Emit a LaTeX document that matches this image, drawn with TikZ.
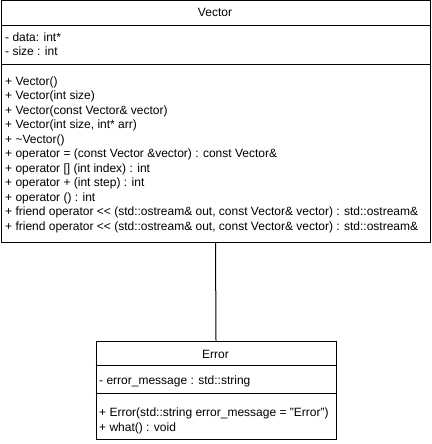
\documentclass[tikz,border=0pt]{standalone}
\usepackage{fontspec}
\setmainfont{Liberation Sans}
\usepackage{tikz}
\usetikzlibrary{positioning}
\definecolor{umlLine}{RGB}{0,0,0}
\definecolor{umlText}{RGB}{0,0,0}

\begin{document}
\begin{tikzpicture}[x=1pt,y=-1pt,
    classbox/.style={draw=umlLine,line width=1pt,fill=white,inner sep=0pt,anchor=north west},
    title/.style={anchor=base,inner sep=0pt,umlText,font=\fontsize{12}{14}\selectfont},
    member/.style={anchor=base west,inner sep=0pt,umlText,font=\fontsize{12}{14}\selectfont}]
        \useasboundingbox (0,0) rectangle (431,444);

        % Vector class
        \node[classbox,minimum width=429pt,minimum height=241pt] (vector) at (0.5,0.5) {};
        \draw[umlLine,line width=1pt] ([yshift=-25pt]vector.north west) -- ([yshift=-25pt]vector.north east);
        \draw[umlLine,line width=1pt] ([yshift=-64pt]vector.north west) -- ([yshift=-64pt]vector.north east);
        \node[title] (vtitle) at (215,17) {Vector};
        \foreach \txt [count=\i] in {{- data: int*},{- size : int}}{
          \node[member] (vattr\i) at (5,{41.5+14*(\i-1)}) {\txt};
        }
        \foreach \txt [count=\i] in {{+ Vector()},{+ Vector(int size)},
            {+ Vector(const Vector\& vector)},{+ Vector(int size, int* arr)},
            {+ \textasciitilde Vector()},
            {+ operator = (const Vector \&vector) : const Vector\&},
            {+ operator [] (int index) : int},{+ operator + (int step) : int},
            {+ operator () : int},
            {+ friend operator <\kern0pt< (std::ostream\& out, const Vector\& vector) : std::ostream\&},
            {+ friend operator <\kern0pt< (std::ostream\& out, const Vector\& vector) : std::ostream\&}}{
          \node[member] (vop\i) at (5,{85+14.5*(\i-1)}) {\txt};
        }

        % Error class
        \node[classbox,minimum width=240pt,minimum height=98pt] (error) at (95.5,340.5) {};
        \draw[umlLine,line width=1pt] ([yshift=-25pt]error.north west) -- ([yshift=-25pt]error.north east);
        \draw[umlLine,line width=1pt] ([yshift=-53pt]error.north west) -- ([yshift=-53pt]error.north east);
        \node[title] (etitle) at (215.5,358) {Error};
        \node[member] (eattr1) at (99,384) {- error\_message : std::string};
        \node[member] (eop1) at (99,416) {+ Error(std::string error\_message = "Error")};
        \node[member] (eop2) at (99,431) {+ what() : void};

        % link
        \draw[umlLine,line width=1pt] (vector.south) -- (error.north);
      \end{tikzpicture}
\end{document}
